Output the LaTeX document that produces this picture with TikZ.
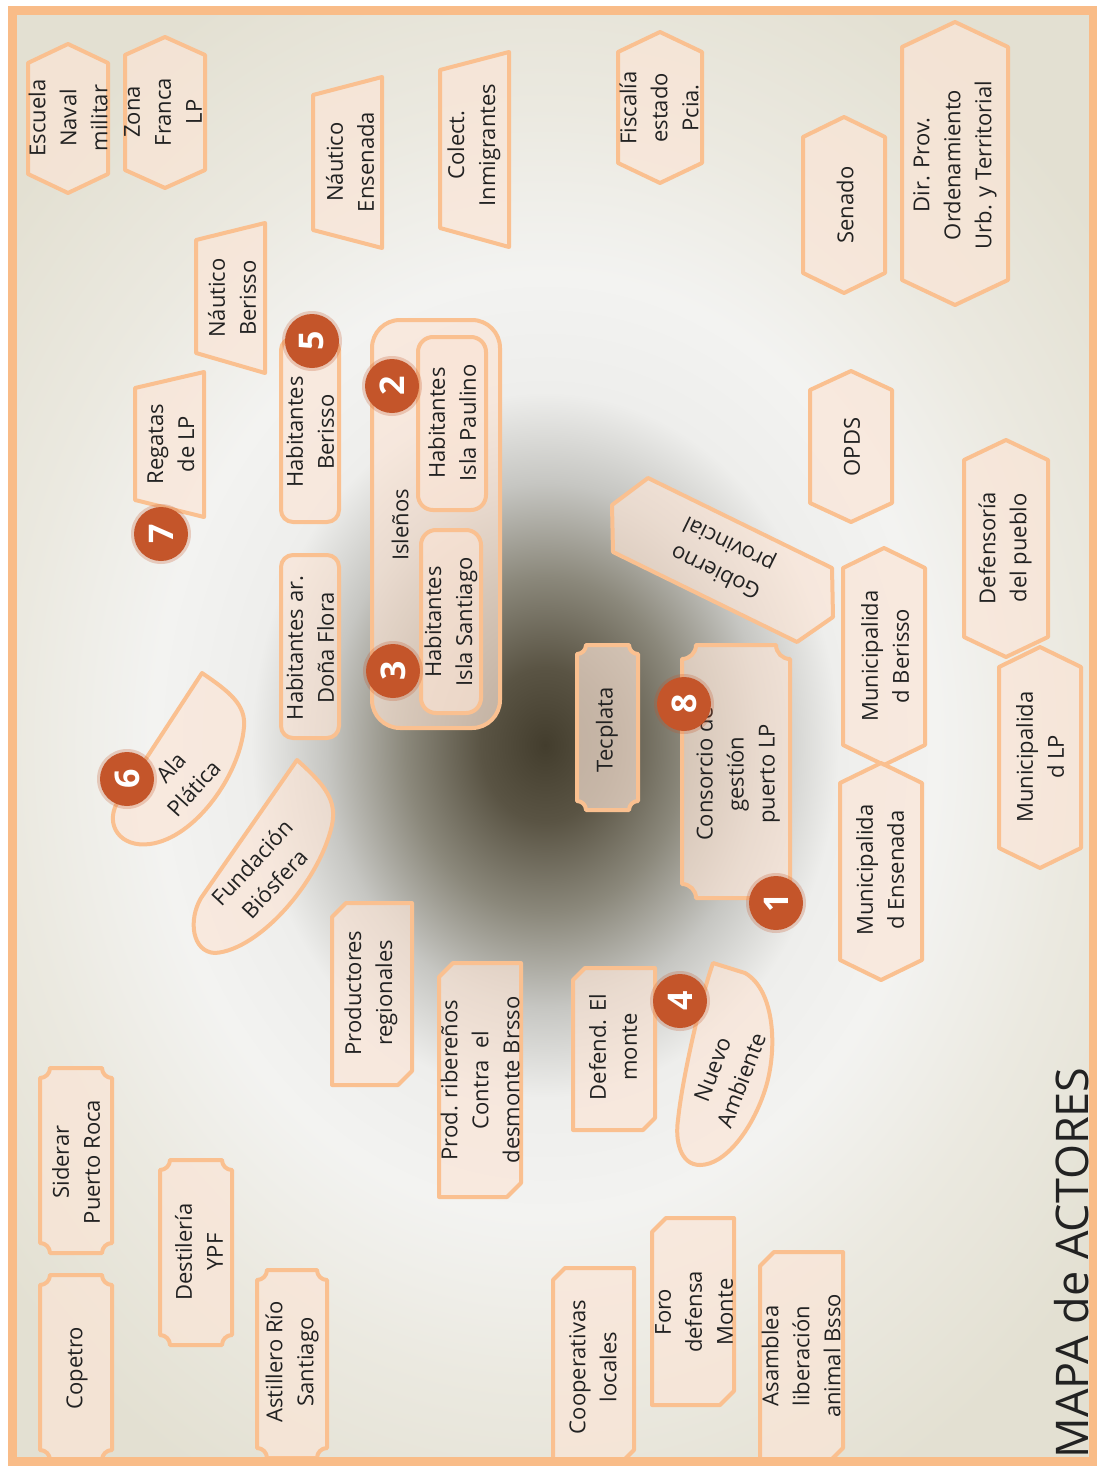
\documentclass[tikz,border=0pt]{standalone}
\usepackage{fontspec}
\setmainfont{Open Sans}
\definecolor{edgec}{HTML}{FAC090}
\definecolor{boxfill}{HTML}{FBE5D6}
\definecolor{badgec}{HTML}{C4552A}
\definecolor{framec}{HTML}{F9BC88}
\definecolor{txt}{HTML}{222222}
\definecolor{bg0}{HTML}{433D2D}
\definecolor{bg1}{HTML}{5A5444}
\definecolor{bg2}{HTML}{8B887B}
\definecolor{bg3}{HTML}{C6C6C2}
\definecolor{bg4}{HTML}{EEEEEC}
\definecolor{bg5}{HTML}{F3F3F1}
\definecolor{bg6}{HTML}{EBE9E0}
\definecolor{bg7}{HTML}{E3E0D2}
\pgfdeclareradialshading{bgglow}{\pgfpoint{0bp}{0bp}}{color(0bp)=(bg0); color(2.3bp)=(bg1); color(5bp)=(bg2); color(7.8bp)=(bg3); color(10.5bp)=(bg4); color(14bp)=(bg5); color(19bp)=(bg6); color(25bp)=(bg7); color(50bp)=(bg7)}
\newcommand\lblfont{\fontsize{22}{31}\selectfont}
\newcommand\titlefont{\fontsize{45}{50}\selectfont}
\newcommand\badgefont{\fontsize{34}{34}\selectfont\bfseries}
\tikzset{
  actor/.style={draw=edgec, line width=4pt, fill=boxfill, fill opacity=0.68, line join=round},
  lbl/.style={align=center, font=\lblfont, text=txt, inner sep=0pt},
  vlbl/.style={lbl, rotate=90},
  badge/.style={circle, fill=badgec, minimum size=54pt, inner sep=0pt, text=white, font=\badgefont, rotate=90},
}
% cx, half width, ytop, ybottom, point depth
\newcommand\hexV[5]{\path[actor] (#1,#3) -- ({#1+#2},{#3+#5}) -- ({#1+#2},{#4-#5}) -- (#1,#4) -- ({#1-#2},{#4-#5}) -- ({#1-#2},{#3+#5}) -- cycle;}
% x1, x2, left top, left bottom, right top, right bottom
\newcommand\trapz[6]{\path[actor] (#1,#3) -- (#2,#5) -- (#2,#6) -- (#1,#4) -- cycle;}
\newcommand\rrect[5]{\path[actor, rounded corners=#5] (#1,#2) rectangle (#3,#4);}
\newcommand\plaque[5]{\path[actor] ({#1+#5},#2) -- ({#3-#5},#2)
 .. controls ({#3-#5},{#2+0.55*#5}) and ({#3-0.55*#5},{#2+#5}) .. (#3,{#2+#5})
 -- (#3,{#4-#5})
 .. controls ({#3-0.55*#5},{#4-#5}) and ({#3-#5},{#4-0.55*#5}) .. ({#3-#5},#4)
 -- ({#1+#5},#4)
 .. controls ({#1+#5},{#4-0.55*#5}) and ({#1+0.55*#5},{#4-#5}) .. (#1,{#4-#5})
 -- (#1,{#2+#5})
 .. controls ({#1+0.55*#5},{#2+#5}) and ({#1+#5},{#2+0.55*#5}) .. ({#1+#5},#2) -- cycle;}
\newcommand\snipr[5]{\path[actor] ({#1+#5},#2) -- (#3,#2) -- (#3,{#4-#5}) -- ({#3-#5},#4) -- (#1,#4) -- (#1,{#2+#5}) -- cycle;}
\begin{document}
\begin{tikzpicture}[x=1pt,y=-1pt]
\useasboundingbox (0,0) rectangle (1097,1467);
\fill[white] (0,0) rectangle (1097,1467);
\fill[bg7] (12,10) rectangle (1093,1461);
\begin{scope}
\clip (12,10) rectangle (1093,1461);
\shade[shading=bgglow] (545,745) ellipse [x radius=700pt, y radius=840pt];
\end{scope}

% hexagons
\hexV{68}{40}{44}{193}{19}
\hexV{165}{40}{37}{188}{18}
\hexV{660}{42}{32}{183}{20}
\hexV{844}{41}{117}{293}{20}
\hexV{955}{53}{22}{305}{25}
\hexV{851}{41}{371}{522}{19}
\hexV{1006}{42}{440}{657}{20}
\hexV{884}{41}{548}{765}{20}
\hexV{881}{41}{763}{980}{20}
\hexV{1040}{41}{647}{868}{20}

% trapezoids
\trapz{313}{382}{95}{230}{77}{248}
\trapz{440}{509}{70}{228}{52}{247}
\trapz{196}{265}{240}{353}{223}{373}
\trapz{135}{204}{388}{500}{372}{517}

% rounded boxes
\rrect{372}{320}{500}{728}{28pt}
\rrect{418}{337}{486}{510}{15pt}
\rrect{421}{530}{481}{713}{15pt}
\rrect{281}{338}{339}{522}{12pt}
\rrect{281}{555}{339}{738}{12pt}

% plaques
\plaque{577}{645}{638}{810}{9}
\plaque{682}{645}{790}{898}{14}
\plaque{40}{1068}{112}{1253}{10}
\plaque{40}{1275}{112}{1460}{10}
\plaque{160}{1160}{232}{1345}{10}
\plaque{257}{1270}{327}{1458}{10}

% snipped boxes
\snipr{332}{903}{412}{1085}{14}
\snipr{439}{963}{521}{1197}{14}
\snipr{573}{968}{655}{1130}{12}
\snipr{553}{1268}{634}{1462}{12}
\snipr{652}{1218}{734}{1405}{14}
\snipr{760}{1252}{843}{1462}{14}

% gobierno provincial
\path[actor] (648,478) -- (832,568) -- (833,617) -- (797,642) -- (613,552) -- (612,505) -- cycle;

% leaf shapes
\path[actor] (202,673) -- (117,803) .. controls (105,825) and (120,848) .. (150,844) .. controls (195,838) and (240,775) .. (244,727) .. controls (246,705) and (230,692) .. (202,673) -- cycle;
\path[actor] (297,760) -- (201,898) .. controls (188,920) and (192,952) .. (215,953) .. controls (260,950) and (320,880) .. (332,825) .. controls (337,800) and (325,785) .. (297,760) -- cycle;
\path[actor] (713,963) -- (745,973) .. controls (775,990) and (778,1050) .. (765,1090) .. controls (752,1130) and (725,1165) .. (700,1165) .. controls (680,1165) and (675,1140) .. (678,1120) .. controls (682,1080) and (700,1000) .. (713,963) -- cycle;

% labels
\node[vlbl] (escuela) at (68,118) {Escuela\\Naval\\militar};
\node[vlbl] (zona) at (163,112) {Zona\\Franca\\LP};
\node[vlbl] (nensenada) at (350,162) {Náutico\\Ensenada};
\node[vlbl] (colect) at (474,145) {Colect.\\Inmigrantes};
\node[vlbl] (fiscalia) at (659,108) {Fiscalía\\estado\\Pcia.};
\node[vlbl] (senado) at (845,205) {Senado};
\node[vlbl] (dirprov) at (955,165) {Dir. Prov.\\Ordenamiento\\Urb. y Territorial};
\node[vlbl] (nberisso) at (232,298) {Náutico\\Berisso};
\node[vlbl] (regatas) at (171,444) {Regatas\\de LP};
\node[vlbl] (habber) at (310,432) {Habitantes\\Berisso};
\node[vlbl] (islenos) at (400,525) {Isleños};
\node[vlbl] (paulino) at (452,423) {Habitantes\\Isla Paulino};
\node[vlbl] (santiago) at (451,622) {Habitantes\\Isla Santiago};
\node[vlbl] (flora) at (310,648) {Habitantes ar.\\Doña Flora};
\node[vlbl] (opds) at (852,447) {OPDS};
\node[lbl, rotate=154] (gobierno) at (723,557) {Gobierno\\provincial};
\node[vlbl] (tecplata) at (607,730) {Tecplata};
\node[vlbl] (consorcio) at (738,774) {Consorcio de\\gestión\\puerto LP};
\node[vlbl] (muniber) at (885,656) {Municipalida\\d Berisso};
\node[vlbl] (muniens) at (880,870) {Municipalida\\d Ensenada};
\node[vlbl] (defensoria) at (1005,548) {Defensoría\\del pueblo};
\node[vlbl] (munilp) at (1040,757) {Municipalida\\d LP};
\node[lbl, rotate=48] (ala) at (182,778) {Ala\\Plática};
\node[lbl, rotate=47] (fundacion) at (263,873) {Fundación\\Biósfera};
\node[vlbl] (productores) at (371,993) {Productores\\regionales};
\node[vlbl] (ribere) at (480,1080) {Prod. ribereños\\Contra\ \ el\\desmonte Brsso};
\node[vlbl] (defend) at (613,1047) {Defend. El\\monte};
\node[lbl, rotate=69] (nuevo) at (727,1075) {Nuevo\\Ambiente};
\node[vlbl] (siderar) at (76,1162) {Siderar\\Puerto Roca};
\node[vlbl] (copetro) at (77,1368) {Copetro};
\node[vlbl] (destileria) at (199,1252) {Destilería\\YPF};
\node[vlbl] (astillero) at (292,1362) {Astillero Río\\Santiago};
\node[vlbl] (coop) at (593,1367) {Cooperativas\\locales};
\node[vlbl] (foro) at (694,1312) {Foro\\defensa\\Monte};
\node[vlbl] (asamblea) at (801,1356) {Asamblea\\liberación\\animal Bsso};
\node[vlbl, font=\titlefont] (title) at (1072,1263) {MAPA de ACTORES};

% numbered badges
\foreach \n/\x/\y in {1/776/903, 2/392/386, 3/393/671, 4/680/1001, 5/312/341, 6/127/779, 7/161/534, 8/684/704}{
  \fill[badgec, opacity=0.25] (\x,\y) circle (30pt);
  \node[badge] (b\n) at (\x,\y) {\n};
}

% frame
\draw[framec, line width=9pt] (12,10.5) rectangle (1093,1461);
\end{tikzpicture}
\end{document}
